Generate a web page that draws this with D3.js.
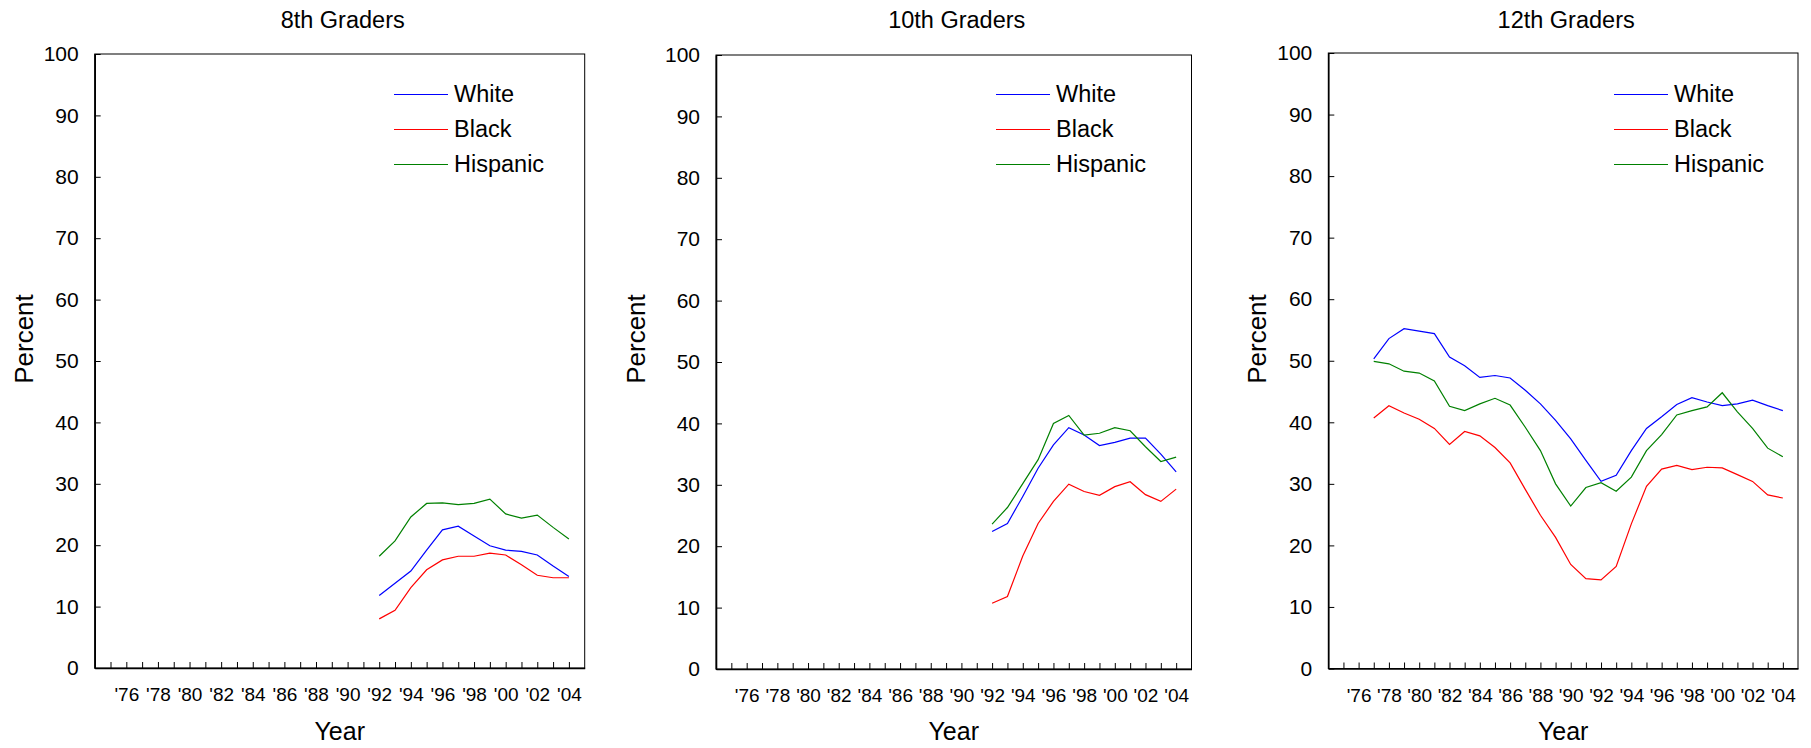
<!DOCTYPE html>
<html>
<head>
<meta charset="utf-8">
<script src="https://cdn.jsdelivr.net/npm/d3@7"></script>
<style>
  body { margin: 0; background: #fff; }
  svg { font-family: "Liberation Sans", Arial, sans-serif; }
</style>
</head>
<body>
<div id="chart"></div>
<script>
// Year categories
const years8 = [1992, 1993, 1994, 1995, 1996, 1997, 1998, 1999, 2000, 2001, 2002, 2003, 2004]
const years10 = [1992, 1993, 1994, 1995, 1996, 1997, 1998, 1999, 2000, 2001, 2002, 2003, 2004]
const years12 = [1977, 1978, 1979, 1980, 1981, 1982, 1983, 1984, 1985, 1986, 1987, 1988, 1989, 1990,
                 1991, 1992, 1993, 1994, 1995, 1996, 1997, 1998, 1999, 2000, 2001, 2002, 2003, 2004]

// 8th graders
const white8    = [11.8, 13.8, 15.8, 19.2, 22.5, 23.1, 21.5, 19.9, 19.2, 19.0, 18.4, 16.6, 14.9]
const black8    = [8.0, 9.4, 13.1, 16.0, 17.6, 18.2, 18.2, 18.7, 18.4, 16.8, 15.1, 14.7, 14.7]
const hispanic8 = [18.2, 20.7, 24.6, 26.8, 26.9, 26.6, 26.8, 27.5, 25.1, 24.4, 24.9, 22.9, 21.0]

// 10th graders
const white10    = [22.4, 23.7, 28.1, 32.7, 36.5, 39.3, 38.1, 36.4, 36.9, 37.6, 37.6, 35.0, 32.1]
const black10    = [10.7, 11.8, 18.4, 23.7, 27.3, 30.1, 28.9, 28.3, 29.7, 30.5, 28.4, 27.3, 29.3]
const hispanic10 = [23.6, 26.3, 30.2, 34.1, 40.0, 41.3, 38.1, 38.4, 39.3, 38.8, 36.2, 33.8, 34.5]

// 12th graders
const white12    = [50.3, 53.6, 55.2, 54.8, 54.4, 50.6, 49.2, 47.3, 47.6, 47.2, 45.2, 43.0, 40.3, 37.3,
                    33.8, 30.4, 31.4, 35.4, 39.0, 40.9, 42.9, 44.0, 43.3, 42.7, 43.0, 43.6, 42.7, 41.9]
const black12    = [40.7, 42.7, 41.5, 40.5, 39.0, 36.4, 38.5, 37.8, 35.9, 33.4, 29.1, 24.9, 21.3, 16.9,
                    14.6, 14.4, 16.6, 23.5, 29.6, 32.4, 33.0, 32.3, 32.7, 32.6, 31.5, 30.4, 28.2, 27.7]
const hispanic12 = [49.9, 49.5, 48.3, 48.0, 46.7, 42.6, 41.9, 43.0, 43.9, 42.8, 39.2, 35.4, 30.0, 26.4,
                    29.4, 30.2, 28.8, 31.1, 35.4, 38.0, 41.2, 41.9, 42.5, 44.8, 41.7, 39.0, 35.8, 34.4]

// Axis ticks
const tickYears = [1975, 1976, 1977, 1978, 1979, 1980, 1981, 1982, 1983, 1984, 1985, 1986, 1987, 1988, 1989,
                   1990, 1991, 1992, 1993, 1994, 1995, 1996, 1997, 1998, 1999, 2000, 2001, 2002, 2003, 2004]
const yTicks = [0, 10, 20, 30, 40, 50, 60, 70, 80, 90, 100]

const groups = ['White', 'Black', 'Hispanic']
const colors = ['#0000ff', '#ff0000', '#008000']

const W = 1811, H = 748

// Panel layout
const panels = [
    { title: '8th Graders', years: years8, series: [white8, black8, hispanic8],
      left: 94.7, right: 584.7, top: 54, bottom: 668, labelX: 23.7, legendX: 454 },
    { title: '10th Graders', years: years10, series: [white10, black10, hispanic10],
      left: 716, right: 1191.5, top: 55, bottom: 669, labelX: 636, legendX: 1056 },
    { title: '12th Graders', years: years12, series: [white12, black12, hispanic12],
      left: 1328.3, right: 1798, top: 53, bottom: 668.5, labelX: 1257, legendX: 1674 }
]

let svg = d3.select('#chart').append('svg')
    .attr('width', W)
    .attr('height', H)

svg.append('rect').attr('width', W).attr('height', H).attr('fill', '#fff')

panels.forEach(p => {

    let x = d3.scaleLinear().domain([1974, 2005]).range([p.left, p.right])
    let y = d3.scaleLinear().domain([0, 100]).range([p.bottom, p.top])

    let g = svg.append('g')

    // Frame
    g.append('rect')
        .attr('x', p.left)
        .attr('y', p.top)
        .attr('width', p.right - p.left)
        .attr('height', p.bottom - p.top)
        .attr('fill', 'none')
        .attr('stroke', '#000')
        .attr('stroke-width', 1)

    // X axis
    let xAxis = d3.axisBottom(x)
        .tickValues(tickYears)
        .tickSizeInner(-6)
        .tickSizeOuter(0)
        .tickPadding(20)
        .tickFormat(d => d % 2 === 0 ? "'" + String(d).slice(2) : '')

    let gx = g.append('g')
        .attr('transform', 'translate(0,' + p.bottom + ')')
        .call(xAxis)
    gx.select('.domain').attr('stroke-width', 1.6)
    gx.selectAll('text').attr('font-size', 19).attr('fill', '#000').attr('font-family', null)

    // Y axis
    let yAxis = d3.axisLeft(y)
        .tickValues(yTicks)
        .tickSizeInner(-6)
        .tickSizeOuter(0)
        .tickPadding(16)

    let gy = g.append('g')
        .attr('transform', 'translate(' + p.left + ',0)')
        .call(yAxis)
    gy.select('.domain').attr('stroke-width', 1.6)
    gy.selectAll('text').attr('font-size', 21).attr('fill', '#000').attr('font-family', null)

    // Lines
    let line = d3.line()
        .x((d, i) => x(p.years[i]))
        .y(d => y(d))

    p.series.forEach((s, i) => {
        g.append('path')
            .datum(s)
            .attr('d', line)
            .attr('fill', 'none')
            .attr('stroke', colors[i])
            .attr('stroke-width', 1.2)
    })

    // Legend
    groups.forEach((name, i) => {
        let base = 101.5 + i * 35
        g.append('line')
            .attr('x1', p.legendX - 60)
            .attr('x2', p.legendX - 6)
            .attr('y1', base - 7)
            .attr('y2', base - 7)
            .attr('stroke', colors[i])
            .attr('stroke-width', 1.2)
        g.append('text')
            .attr('x', p.legendX)
            .attr('y', base)
            .attr('font-size', 23.5)
            .text(name)
    })

    // Title
    g.append('text')
        .attr('x', (p.left + p.right) / 2 + 3)
        .attr('y', 28)
        .attr('text-anchor', 'middle')
        .attr('font-size', 23.5)
        .text(p.title)

    // Axis titles
    g.append('text')
        .attr('x', (p.left + p.right) / 2)
        .attr('y', 740)
        .attr('text-anchor', 'middle')
        .attr('font-size', 25)
        .text('Year')

    g.append('text')
        .attr('transform', 'translate(' + (p.labelX + 9) + ',339) rotate(-90)')
        .attr('text-anchor', 'middle')
        .attr('font-size', 26)
        .text('Percent')
})
</script>
</body>
</html>
